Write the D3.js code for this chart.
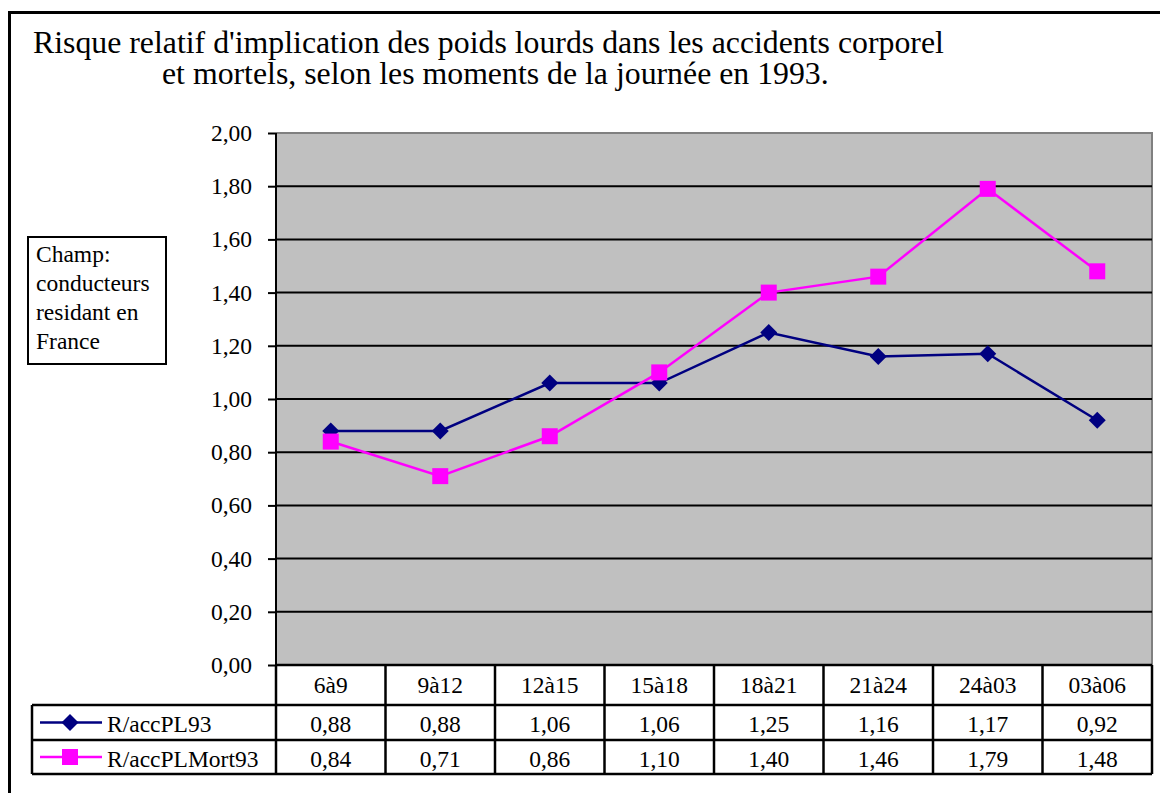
<!DOCTYPE html>
<html><head><meta charset="utf-8">
<script src="https://cdn.jsdelivr.net/npm/d3@7"></script>
<style>
html,body{margin:0;padding:0;background:#fff;overflow:hidden;}
svg{display:block;}
text{font-family:"Liberation Serif","Times New Roman",serif;fill:#000;}
</style></head>
<body>
<svg id="chart" width="1160" height="793"></svg>
<script>
const categories = ["6à9","9à12","12à15","15à18","18à21","21à24","24à03","03à06"];
const seriesNames = ["R/accPL93","R/accPLMort93"];
const pl93 = [0.88,0.88,1.06,1.06,1.25,1.16,1.17,0.92];
const plMort93 = [0.84,0.71,0.86,1.10,1.40,1.46,1.79,1.48];
const yTicks = [0,0.2,0.4,0.6,0.8,1.0,1.2,1.4,1.6,1.8,2.0];
const titleLines = ["Risque relatif d'implication des poids lourds dans les accidents corporel",
                    "et mortels, selon les moments de la journée en 1993."];
const noteLines = ["Champ:","conducteurs","residant en","France"];

const series = [
  {name: seriesNames[0], values: pl93, color: "#000080", marker: "diamond"},
  {name: seriesNames[1], values: plMort93, color: "#FF00FF", marker: "square"}
];

const locale = d3.formatLocale({decimal: ",", thousands: " ", grouping: [3], currency: ["", "€"]});
const fmt = locale.format(".2f");

const svg = d3.select("#chart");
const L = 276, R = 1152, T = 133, B = 665;
const FS = 23.5;

// outer frame
svg.append("rect").attr("x", 9.5).attr("y", 12.5).attr("width", 1300).attr("height", 900)
  .attr("fill", "none").attr("stroke", "#000").attr("stroke-width", 3);

// title
svg.append("text").attr("x", 33).attr("y", 53).attr("font-size", 31.8).text(titleLines[0]);
svg.append("text").attr("x", 162).attr("y", 84).attr("font-size", 31.8).text(titleLines[1]);

const x = d3.scaleBand().domain(categories).range([L, R]).padding(0);
const y = d3.scaleLinear().domain([0, 2]).range([B, T]);

// plot background
svg.append("rect").attr("x", L).attr("y", T).attr("width", R - L).attr("height", B - T)
  .attr("fill", "#C0C0C0");
// top/right gray border
svg.append("path").attr("d", `M${L},${T}H${R}V${B}`).attr("fill", "none")
  .attr("stroke", "#808080").attr("stroke-width", 2);

// gridlines
svg.append("g").selectAll("line").data(yTicks.filter(d => d > 0 && d < 2)).join("line")
  .attr("x1", L).attr("x2", R).attr("y1", d => y(d)).attr("y2", d => y(d))
  .attr("stroke", "#000").attr("stroke-width", 2);

// y axis
const yAxis = d3.axisLeft(y).tickValues(yTicks).tickFormat(fmt).tickSize(8).tickPadding(16);
const gy = svg.append("g").attr("transform", `translate(${L},0)`).call(yAxis);
gy.select(".domain").attr("stroke", "#000").attr("stroke-width", 2).attr("d", `M0,${B}V${T}`);
gy.selectAll(".tick line").attr("stroke", "#000").attr("stroke-width", 2);
gy.selectAll(".tick text").attr("font-size", FS).attr("font-family", "Liberation Serif").attr("fill", "#000").attr("dy", "0.32em");

// lines and markers
const line = d3.line().x((d, i) => x(categories[i]) + x.bandwidth() / 2).y(d => y(d));
function drawMarker(g, s, cx, cy) {
  if (s.marker === "diamond") {
    g.append("path").attr("d", `M${cx},${cy-8.5}L${cx+8.5},${cy}L${cx},${cy+8.5}L${cx-8.5},${cy}Z`).attr("fill", s.color);
  } else {
    g.append("rect").attr("x", cx - 8).attr("y", cy - 8).attr("width", 16).attr("height", 16).attr("fill", s.color);
  }
}
series.forEach(s => {
  const g = svg.append("g");
  g.append("path").attr("d", line(s.values)).attr("fill", "none").attr("stroke", s.color).attr("stroke-width", 2.5);
  s.values.forEach((v, i) => drawMarker(g, s, x(categories[i]) + x.bandwidth() / 2, y(v)));
});

// data table
const rowTops = [B, 705, 740, 774];
const tLeft = 32;
const tg = svg.append("g");
const stroke = (x1, y1, x2, y2) => tg.append("line").attr("x1", x1).attr("y1", y1).attr("x2", x2).attr("y2", y2)
  .attr("stroke", "#000").attr("stroke-width", 2.5);
stroke(L, rowTops[0], R, rowTops[0]);
stroke(tLeft, rowTops[1], R, rowTops[1]);
stroke(tLeft, rowTops[2], R, rowTops[2]);
stroke(tLeft, rowTops[3], R, rowTops[3]);
categories.forEach(c => stroke(x(c), rowTops[0], x(c), rowTops[3]));
stroke(R, rowTops[0], R, rowTops[3]);
stroke(tLeft, rowTops[1], tLeft, rowTops[3]);

tg.selectAll("text.cat").data(categories).join("text").attr("class", "cat")
  .attr("x", d => x(d) + x.bandwidth() / 2).attr("y", 693).attr("text-anchor", "middle")
  .attr("font-size", FS).text(d => d);
const rowBase = [732, 767];
series.forEach((s, si) => {
  tg.selectAll(`text.v${si}`).data(s.values).join("text").attr("class", `v${si}`)
    .attr("x", (d, i) => x(categories[i]) + x.bandwidth() / 2).attr("y", rowBase[si])
    .attr("text-anchor", "middle").attr("font-size", FS).text(d => fmt(d));
  const cy = (rowTops[si + 1] + rowTops[si + 2]) / 2;
  tg.append("line").attr("x1", 40).attr("x2", 102).attr("y1", cy).attr("y2", cy)
    .attr("stroke", s.color).attr("stroke-width", 2.5);
  drawMarker(tg, s, 70, cy);
  tg.append("text").attr("x", 107).attr("y", rowBase[si]).attr("font-size", FS).text(s.name);
});

// note box
svg.append("rect").attr("x", 28).attr("y", 237).attr("width", 138).attr("height", 127)
  .attr("fill", "#fff").attr("stroke", "#000").attr("stroke-width", 2);
svg.append("g").selectAll("text").data(noteLines).join("text")
  .attr("x", 36).attr("y", (d, i) => 262 + i * 29).attr("font-size", 23.5).text(d => d);
</script>
</body></html>
